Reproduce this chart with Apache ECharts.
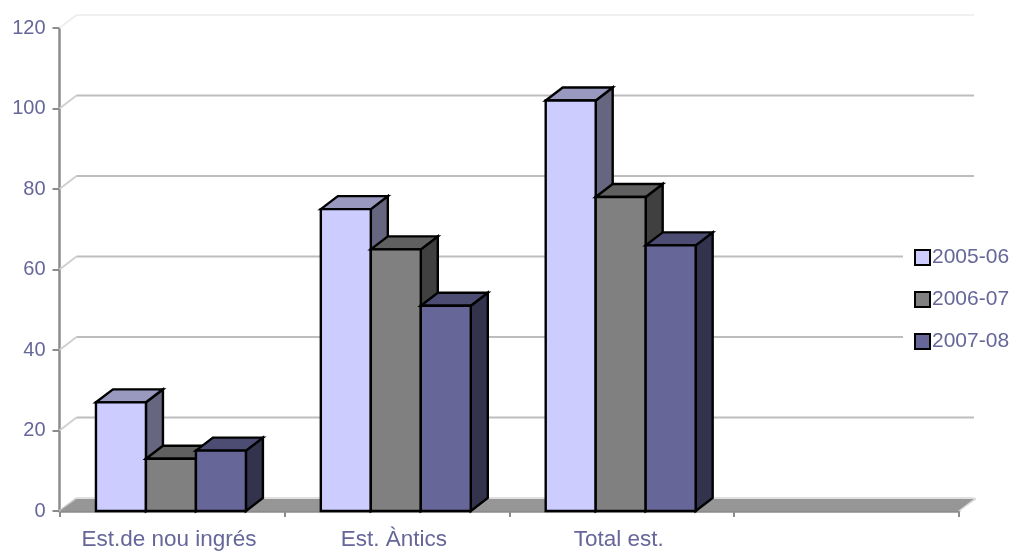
<!DOCTYPE html>
<html><head><meta charset="utf-8">
<style>html,body{margin:0;padding:0;background:#fff}#c{width:1013px;height:552px}</style>
<script src="https://cdn.jsdelivr.net/npm/echarts@6/dist/echarts.min.js"></script>
</head><body><div id="c"></div>
<script>
const categories = ['Est.de nou ingrés', 'Est. Àntics', 'Total est.', ''];
const seriesNames = ['2005-06', '2006-07', '2007-08'];
const values2005 = [27, 75, 102];
const values2006 = [13, 65, 78];
const values2007 = [15, 51, 66];
const yTicks = [0, 20, 40, 60, 80, 100, 120];

const textColor = '#666699';
const font = 'Liberation Sans';
const DX = 17, DY = -13;
const faces = [
  {front:'#CCCCFF', top:'#9999BF', side:'#666680'},
  {front:'#808080', top:'#606060', side:'#404040'},
  {front:'#666699', top:'#4D4D73', side:'#33334D'}
];
const BAR_RATIO = 0.2223;
const EDGE = 2.4;

function poly(points, fill, stroke, w) {
  return {type:'polygon', shape:{points}, style:{fill, stroke, lineWidth:w, lineJoin:'miter'}};
}
function barRenderer(si) {
  return function (params, api) {
    const cat = api.value(0), v = api.value(1);
    const band = api.size([1, 0])[0];
    const w = band * BAR_RATIO;
    const c0 = api.coord([cat, 0]);
    const c1 = api.coord([cat, v]);
    const l = c0[0] + (si - 1.5) * w - 1, r = l + w;
    const b = c0[1], t = c1[1];
    const f = faces[si];
    return {type:'group', children:[
      poly([[r,t],[r+DX,t+DY],[r+DX,b+DY],[r,b]], f.side, '#000', EDGE),
      poly([[l,t],[l+DX,t+DY],[r+DX,t+DY],[r,t]], f.top, '#000', EDGE),
      poly([[l,t],[r,t],[r,b],[l,b]], f.front, '#000', EDGE)
    ]};
  };
}
function wallRenderer(params, api) {
  const cs = params.coordSys;
  const v = api.value(0);
  const y = api.coord([0, v])[1];
  const x0 = cs.x, x1 = cs.x + cs.width;
  const col = v === 120 ? '#F0F0F0' : (v === 0 ? '#E0E0E0' : '#BDBDBD');
  const diag = v === 120 ? '#EEEEEE' : '#D0D0D0';
  const kids = [
    {type:'line', shape:{x1:x0, y1:y, x2:x0+DX, y2:y+DY}, style:{stroke:diag, lineWidth:2}},
    {type:'line', shape:{x1:x0+DX, y1:y+DY, x2:x1+15, y2:y+DY}, style:{stroke:col, lineWidth:2}}
  ];
  if (v === 0) {
    kids.push({type:'polygon', shape:{points:[[x0,y],[x1,y],[x1+DX,y+DY+1],[x0+DX,y+DY+1]]},
      style:{fill:'#969696'}});
    kids.push({type:'line', shape:{x1:x1, y1:y, x2:x1+DX, y2:y+DY}, style:{stroke:'#D8D8D8', lineWidth:1.5}});
  }
  return {type:'group', children:kids};
}

const allValues = [values2005, values2006, values2007];
const chart = echarts.init(document.getElementById('c'), null, {renderer:'canvas'});
chart.setOption({
  animation:false,
  backgroundColor:'#fff',
  grid:{left:59.5, right:54, top:28, bottom:41, containLabel:false},
  legend:{
    orient:'vertical', left:903, top:239, padding:[8,0,8,11],
    backgroundColor:'#fff', itemWidth:15, itemHeight:15, itemGap:21, icon:'rect',
    textStyle:{color:textColor, fontFamily:font, fontSize:21, padding:[0,0,0,-3]},
    data:seriesNames.map((n,i)=>({name:n, icon:'rect',
      itemStyle:{color:faces[i].front, borderColor:'#000', borderWidth:2}}))
  },
  xAxis:{
    type:'category', data:categories, boundaryGap:true,
    axisLine:{show:true, onZero:false, lineStyle:{color:'#8C8C8C', width:2.5}},
    axisTick:{show:true, alignWithLabel:false, length:6, lineStyle:{color:'#8C8C8C', width:2}},
    axisLabel:{color:textColor, fontFamily:font, fontSize:22.5, margin:17, interval:0, padding:[0,6,0,0]},
    splitLine:{show:false}
  },
  yAxis:{
    type:'value', min:0, max:120, interval:20,
    axisLine:{show:true, lineStyle:{color:'#8C8C8C', width:2.5}},
    axisTick:{show:true, length:7, lineStyle:{color:'#8C8C8C', width:2}},
    axisLabel:{color:textColor, fontFamily:font, fontSize:20, margin:14},
    splitLine:{show:false}
  },
  series:[
    {type:'custom', name:'wall', renderItem:wallRenderer, clip:false, z:1, silent:true,
     encode:{y:0}, data:yTicks.map(v=>[v])},
    ...seriesNames.map((n,i)=>({
      type:'custom', name:n, clip:false, z:2+i, renderItem:barRenderer(i),
      itemStyle:{color:faces[i].front},
      encode:{x:0, y:1},
      data:allValues[i].map((v,k)=>[k,v])
    }))
  ]
});
</script></body></html>
